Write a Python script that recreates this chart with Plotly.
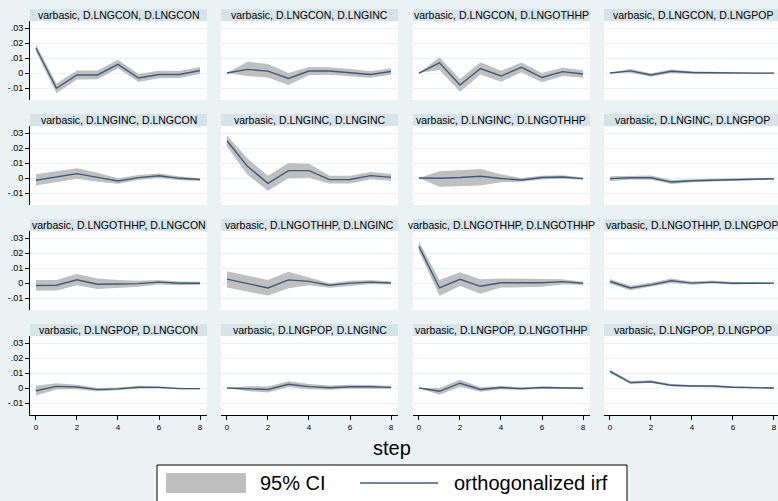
import plotly.graph_objects as go

steps = [0, 1, 2, 3, 4, 5, 6, 7, 8]
variables = ["CON", "INC", "OTHHP", "POP"]
ytick_vals = [-0.01, 0, 0.01, 0.02, 0.03]
ytick_text = ["-.01", "0", ".01", ".02", ".03"]
xtick_vals = [0, 2, 4, 6, 8]

# impulse CON
irf_con_con = [0.0167, -0.0102, -0.0013, -0.0013, 0.0058, -0.0033, -0.0010, -0.0010, 0.0017]
lo_con_con = [0.0142, -0.0135, -0.0043, -0.0042, 0.0032, -0.0060, -0.0035, -0.0034, -0.0006]
hi_con_con = [0.0190, -0.0070, 0.0017, 0.0016, 0.0088, -0.0007, 0.0015, 0.0014, 0.0040]

irf_con_inc = [0.0, 0.0024, 0.0013, -0.0036, 0.0013, 0.0013, 0.0002, -0.0010, 0.0010]
lo_con_inc = [0.0, -0.0020, -0.0030, -0.0080, -0.0015, -0.0012, -0.0022, -0.0032, -0.0012]
hi_con_inc = [0.0, 0.0075, 0.0060, 0.0000, 0.0040, 0.0038, 0.0026, 0.0012, 0.0032]

irf_con_oth = [0.0, 0.0068, -0.0080, 0.0030, -0.0020, 0.0038, -0.0030, 0.0009, -0.0007]
lo_con_oth = [0.0, 0.0020, -0.0125, -0.0010, -0.0058, 0.0005, -0.0062, -0.0020, -0.0032]
hi_con_oth = [0.0, 0.0105, -0.0040, 0.0072, 0.0015, 0.0070, 0.0000, 0.0035, 0.0018]

irf_con_pop = [0.0, 0.0014, -0.0013, 0.0012, 0.0003, 0.0, -0.0001, -0.0001, -0.0001]
lo_con_pop = [0.0, 0.0002, -0.0025, 0.0000, -0.0006, -0.0008, -0.0007, -0.0006, -0.0005]
hi_con_pop = [0.0, 0.0027, -0.0001, 0.0024, 0.0012, 0.0007, 0.0005, 0.0004, 0.0003]

# impulse INC
irf_inc_con = [-0.0015, 0.0007, 0.0029, 0.0004, -0.0020, 0.0003, 0.0015, -0.0002, -0.0010]
lo_inc_con = [-0.0050, -0.0028, -0.0005, -0.0025, -0.0038, -0.0013, 0.0000, -0.0015, -0.0018]
hi_inc_con = [0.0025, 0.0043, 0.0065, 0.0035, -0.0002, 0.0020, 0.0030, 0.0010, -0.0002]

irf_inc_inc = [0.0249, 0.0078, -0.0036, 0.0049, 0.0049, -0.0011, -0.0010, 0.0016, 0.0004]
lo_inc_inc = [0.0212, 0.0022, -0.0085, -0.0002, 0.0002, -0.0037, -0.0036, -0.0008, -0.0018]
hi_inc_inc = [0.0283, 0.0130, 0.0015, 0.0100, 0.0095, 0.0015, 0.0015, 0.0040, 0.0026]

irf_inc_oth = [0.0, -0.0002, 0.0003, 0.0012, -0.0003, -0.0013, 0.0003, 0.0007, -0.0004]
lo_inc_oth = [0.0, -0.0058, -0.0055, -0.0050, -0.0028, -0.0025, -0.0010, -0.0005, -0.0012]
hi_inc_oth = [0.0, 0.0045, 0.0052, 0.0060, 0.0025, 0.0000, 0.0015, 0.0018, 0.0004]

irf_inc_pop = [-0.0004, 0.0002, 0.0002, -0.0027, -0.0018, -0.0013, -0.0009, -0.0008, -0.0005]
lo_inc_pop = [-0.0020, -0.0012, -0.0012, -0.0040, -0.0028, -0.0021, -0.0016, -0.0014, -0.0010]
hi_inc_pop = [0.0012, 0.0016, 0.0016, -0.0014, -0.0008, -0.0005, -0.0002, -0.0002, 0.0000]

# impulse OTHHP
irf_oth_con = [-0.0017, -0.0015, 0.0022, -0.0008, -0.0007, -0.0004, 0.0006, -0.0002, -0.0002]
lo_oth_con = [-0.0050, -0.0050, -0.0015, -0.0040, -0.0033, -0.0025, -0.0010, -0.0015, -0.0012]
hi_oth_con = [0.0020, 0.0020, 0.0060, 0.0030, 0.0020, 0.0015, 0.0020, 0.0010, 0.0008]

irf_oth_inc = [0.0026, -0.0003, -0.0033, 0.0021, 0.0011, -0.0015, -0.0001, 0.0006, 0.0000]
lo_oth_inc = [-0.0030, -0.0055, -0.0083, -0.0035, -0.0015, -0.0032, -0.0018, -0.0008, -0.0010]
hi_oth_inc = [0.0078, 0.0048, 0.0020, 0.0075, 0.0035, -0.0001, 0.0015, 0.0020, 0.0010]

irf_oth_oth = [0.0244, -0.0033, 0.0025, -0.0022, 0.0002, 0.0002, 0.0002, 0.0009, -0.0002]
lo_oth_oth = [0.0212, -0.0085, -0.0020, -0.0072, -0.0030, -0.0028, -0.0025, -0.0010, -0.0012]
hi_oth_oth = [0.0275, 0.0020, 0.0072, 0.0025, 0.0030, 0.0030, 0.0028, 0.0025, 0.0008]

irf_oth_pop = [0.0010, -0.0033, -0.0012, 0.0015, -0.0001, 0.0006, -0.0002, -0.0001, -0.0001]
lo_oth_pop = [-0.0005, -0.0048, -0.0025, 0.0000, -0.0012, -0.0004, -0.0010, -0.0007, -0.0006]
hi_oth_pop = [0.0027, -0.0018, 0.0002, 0.0030, 0.0010, 0.0016, 0.0006, 0.0005, 0.0004]

# impulse POP
irf_pop_con = [-0.0018, 0.0011, 0.0007, -0.0011, -0.0006, 0.0005, 0.0004, -0.0004, -0.0004]
lo_pop_con = [-0.0050, -0.0010, -0.0008, -0.0022, -0.0015, -0.0003, -0.0003, -0.0009, -0.0008]
hi_pop_con = [0.0015, 0.0032, 0.0022, 0.0000, 0.0003, 0.0013, 0.0011, 0.0001, 0.0000]

irf_pop_inc = [0.0, -0.0004, -0.0010, 0.0025, 0.0009, 0.0002, 0.0008, 0.0008, 0.0004]
lo_pop_inc = [0.0, -0.0020, -0.0030, 0.0007, -0.0008, -0.0012, -0.0005, -0.0005, -0.0005]
hi_pop_inc = [0.0, 0.0012, 0.0010, 0.0045, 0.0026, 0.0016, 0.0021, 0.0020, 0.0013]

irf_pop_oth = [0.0, -0.0022, 0.0032, -0.0010, 0.0003, -0.0004, 0.0003, 0.0001, -0.0002]
lo_pop_oth = [0.0, -0.0045, 0.0008, -0.0025, -0.0008, -0.0013, -0.0005, -0.0006, -0.0008]
hi_pop_oth = [0.0, 0.0000, 0.0055, 0.0005, 0.0014, 0.0005, 0.0010, 0.0008, 0.0004]

irf_pop_pop = [0.0111, 0.0036, 0.0042, 0.0018, 0.0013, 0.0013, 0.0005, 0.0003, 0.0000]
lo_pop_pop = [0.0100, 0.0027, 0.0033, 0.0010, 0.0006, 0.0006, -0.0001, -0.0003, -0.0005]
hi_pop_pop = [0.0122, 0.0046, 0.0051, 0.0027, 0.0020, 0.0020, 0.0011, 0.0009, 0.0005]

panels = [
    [(irf_con_con, lo_con_con, hi_con_con), (irf_con_inc, lo_con_inc, hi_con_inc),
     (irf_con_oth, lo_con_oth, hi_con_oth), (irf_con_pop, lo_con_pop, hi_con_pop)],
    [(irf_inc_con, lo_inc_con, hi_inc_con), (irf_inc_inc, lo_inc_inc, hi_inc_inc),
     (irf_inc_oth, lo_inc_oth, hi_inc_oth), (irf_inc_pop, lo_inc_pop, hi_inc_pop)],
    [(irf_oth_con, lo_oth_con, hi_oth_con), (irf_oth_inc, lo_oth_inc, hi_oth_inc),
     (irf_oth_oth, lo_oth_oth, hi_oth_oth), (irf_oth_pop, lo_oth_pop, hi_oth_pop)],
    [(irf_pop_con, lo_pop_con, hi_pop_con), (irf_pop_inc, lo_pop_inc, hi_pop_inc),
     (irf_pop_oth, lo_pop_oth, hi_pop_oth), (irf_pop_pop, lo_pop_pop, hi_pop_pop)],
]

W, H = 778, 501
FONT = "Liberation Sans, Arial, sans-serif"
BG = "#EAF2F3"
BAR = "#D6E3E9"
LINE = "#3B5B7E"
FILL = "#BFBFBF"

col_x0 = [30, 221, 413, 604]
col_x1 = [207, 398, 590, 778]
row_top = [21, 126, 231, 336]
row_bot = [100, 205, 310, 415]
bar_h = 12
x_ranges = [[-0.29, 8.34], [-0.29, 8.34], [-0.29, 8.34], [-0.29, 8.2]]
y_range = [-0.018, 0.0347]

def px(x):
    return x / W

def py(y):
    return 1 - y / H

fig = go.Figure()
layout = dict(
    width=W, height=H, autosize=False,
    margin=dict(l=0, r=0, t=0, b=0),
    paper_bgcolor=BG, plot_bgcolor="white",
    showlegend=False,
    font=dict(family=FONT, color="black"),
)
shapes = []
annotations = []

for r in range(4):
    for c in range(4):
        k = r * 4 + c + 1
        xa = "x" if k == 1 else f"x{k}"
        ya = "y" if k == 1 else f"y{k}"
        irf, lo, hi = panels[r][c]
        fig.add_trace(go.Scatter(
            x=steps + steps[::-1], y=hi + lo[::-1], fill="toself",
            fillcolor=FILL, line=dict(width=0), mode="lines",
            xaxis=xa, yaxis=ya, hoverinfo="skip"))
        fig.add_trace(go.Scatter(
            x=steps, y=irf, mode="lines", line=dict(color=LINE, width=1.4),
            xaxis=xa, yaxis=ya))
        bottom = (r == 3)
        left = (c == 0)
        layout["xaxis" if k == 1 else f"xaxis{k}"] = dict(
            domain=[px(col_x0[c]), px(col_x1[c])], range=x_ranges[c],
            anchor=ya, showgrid=False, zeroline=False,
            showline=bottom, linecolor="black", linewidth=1,
            ticks="outside" if bottom else "", ticklen=4, tickcolor="black",
            tickvals=xtick_vals, showticklabels=bottom,
            tickfont=dict(size=8, family=FONT, color="black"))
        layout["yaxis" if k == 1 else f"yaxis{k}"] = dict(
            domain=[py(row_bot[r]), py(row_top[r])], range=y_range,
            anchor=xa, showgrid=True, gridcolor=BG, gridwidth=1, zeroline=False,
            showline=left, linecolor="black", linewidth=1,
            ticks="outside" if left else "", ticklen=4, tickcolor="black",
            tickvals=ytick_vals, ticktext=ytick_text, showticklabels=left,
            tickfont=dict(size=9, family=FONT, color="black"))
        shapes.append(dict(type="rect", xref="paper", yref="paper",
                           x0=px(col_x0[c]), x1=px(col_x1[c]),
                           y0=py(row_top[r]), y1=py(row_top[r] - bar_h),
                           fillcolor=BAR, line=dict(width=0), layer="below"))
        annotations.append(dict(
            text=f"varbasic, D.LNG{variables[r]}, D.LNG{variables[c]}",
            xref="paper", yref="paper",
            x=px((col_x0[c] + col_x0[c] + 177) / 2), y=py(row_top[r] - bar_h / 2),
            xanchor="center", yanchor="middle", showarrow=False,
            font=dict(size=10.5, family=FONT, color="black")))

# x-axis title
annotations.append(dict(text="step", xref="paper", yref="paper",
                        x=px(392), y=py(448), xanchor="center", yanchor="middle",
                        showarrow=False, font=dict(size=20, family=FONT, color="black")))
# legend box
shapes.append(dict(type="rect", xref="paper", yref="paper",
                   x0=px(157), x1=px(627), y0=py(510), y1=py(465),
                   fillcolor="white", line=dict(color="black", width=1)))
shapes.append(dict(type="rect", xref="paper", yref="paper",
                   x0=px(166), x1=px(246), y0=py(493), y1=py(473),
                   fillcolor=FILL, line=dict(width=0)))
shapes.append(dict(type="line", xref="paper", yref="paper",
                   x0=px(360), x1=px(438), y0=py(483), y1=py(483),
                   line=dict(color=LINE, width=1.5)))
annotations.append(dict(text="95% CI", xref="paper", yref="paper",
                        x=px(258), y=py(483), xanchor="left", yanchor="middle",
                        showarrow=False, font=dict(size=20, family=FONT, color="black")))
annotations.append(dict(text="orthogonalized irf", xref="paper", yref="paper",
                        x=px(452), y=py(483), xanchor="left", yanchor="middle",
                        showarrow=False, font=dict(size=20, family=FONT, color="black")))

layout["shapes"] = shapes
layout["annotations"] = annotations
fig.update_layout(**layout)
fig.write_html("out.html", config={"displayModeBar": False},
               post_script="document.body.style.margin='0';document.body.style.overflow='hidden';")
